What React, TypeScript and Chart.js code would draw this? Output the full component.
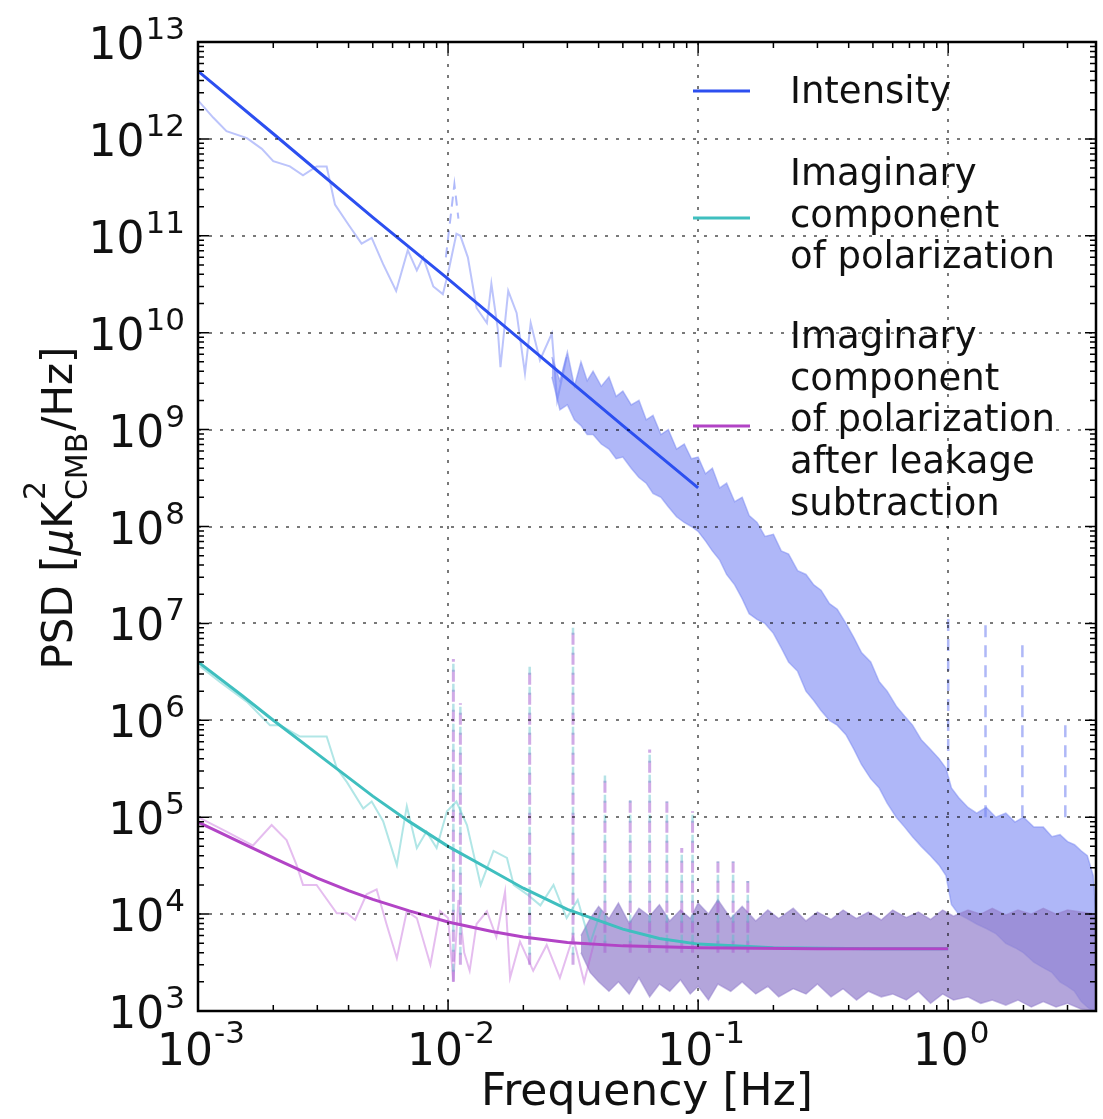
import React, { useEffect, useRef } from 'react';
import { Chart, registerables } from 'chart.js';

Chart.register(...registerables);

const FONT = '"DejaVu Sans", "Liberation Sans", sans-serif';

// ---------- Axis ticks ----------
const xTickExponents = ['-3', '-2', '-1', '0'];
const yTickExponents = ['3', '4', '5', '6', '7', '8', '9', '10', '11', '12', '13'];
const xMin = 0.001;
const xMax = 3.9;
const yMin = 1e3;
const yMax = 1e13;

// ---------- Fits (solid, thick) ----------
const intensityFitFreq = [0.001, 0.002, 0.005, 0.01, 0.02, 0.05, 0.1];
const intensityFitPsd = [5.0e12, 1.13e12, 1.55e11, 3.6e10, 8.0e9, 1.1e9, 2.5e8];

const cyanFitFreq = [0.001, 0.0015, 0.002, 0.003, 0.005, 0.007, 0.01, 0.015, 0.02, 0.03, 0.05, 0.07, 0.1, 0.2, 0.5, 1.0];
const cyanFitPsd = [4.0e6, 1.8e6, 1.0e6, 4.5e5, 1.65e5, 9.0e4, 5.0e4, 2.8e4, 1.85e4, 1.12e4, 7.0e3, 5.6e3, 4.9e3, 4.5e3, 4.4e3, 4.4e3];

const magentaFitFreq = [0.001, 0.0015, 0.002, 0.003, 0.004, 0.005, 0.007, 0.01, 0.015, 0.02, 0.03, 0.05, 0.1, 0.3, 1.0];
const magentaFitPsd = [8.9e4, 5.4e4, 3.8e4, 2.35e4, 1.75e4, 1.42e4, 1.08e4, 8.3e3, 6.6e3, 5.8e3, 5.1e3, 4.7e3, 4.5e3, 4.4e3, 4.4e3];

// ---------- Measured PSD, low-frequency part (thin lines) ----------
const intensityNoiseFreq = [0.001, 0.00115, 0.0013, 0.00157, 0.0018, 0.002, 0.00233, 0.00263, 0.00298, 0.00327, 0.00353, 0.004, 0.00451, 0.00495, 0.0055, 0.0062, 0.0069, 0.0075, 0.00795, 0.00873, 0.00953, 0.01, 0.0108, 0.0112, 0.012, 0.013, 0.0143, 0.0149, 0.0158, 0.0162, 0.0174, 0.0188, 0.0203, 0.0214, 0.0233, 0.026, 0.0273, 0.0298];
const intensityNoisePsd = [2.5e12, 1.66e12, 1.2e12, 1.02e12, 7.9e11, 5.9e11, 5.2e11, 4.2e11, 5.2e11, 5.2e11, 2.1e11, 1.3e11, 8.3e10, 9.5e10, 5.1e10, 2.7e10, 7.1e10, 4.4e10, 6.0e10, 3.0e10, 2.5e10, 4.1e10, 1.05e11, 1.0e11, 6.0e10, 1.8e10, 1.26e10, 3.2e10, 1.1e10, 4.4e9, 2.7e10, 1.6e10, 3.8e9, 1.26e10, 5.2e9, 9.8e9, 2.0e9, 5.6e9];

const cyanNoiseFreq = [0.00102, 0.00122, 0.00157, 0.00194, 0.00213, 0.00256, 0.00327, 0.00359, 0.00394, 0.00458, 0.00495, 0.0055, 0.00624, 0.00684, 0.0075, 0.0082, 0.009, 0.0099, 0.0108, 0.0119, 0.0135, 0.0152, 0.0172, 0.0183, 0.0207, 0.0234, 0.0264, 0.0298, 0.033, 0.037, 0.041];
const cyanNoisePsd = [3.6e6, 2.5e6, 1.55e6, 8.9e5, 8.9e5, 6.8e5, 6.8e5, 3.2e5, 2.3e5, 1.23e5, 1.45e5, 9.1e4, 3.2e4, 1.3e5, 4.8e4, 7.1e4, 4.8e4, 1.15e5, 1.45e5, 8.3e4, 2.0e4, 4.5e4, 3.8e4, 2.0e4, 1.6e4, 1.23e4, 2.0e4, 9.1e3, 1.4e4, 5.0e3, 1.1e4];

const magentaNoiseFreq = [0.00102, 0.0013, 0.00166, 0.00197, 0.00226, 0.00248, 0.00263, 0.00298, 0.00359, 0.00394, 0.00425, 0.00472, 0.00518, 0.00568, 0.00624, 0.00684, 0.0075, 0.0085, 0.0093, 0.01, 0.0105, 0.011, 0.0116, 0.0122, 0.013, 0.0143, 0.0156, 0.0169, 0.0177, 0.0194, 0.0219, 0.0248, 0.028, 0.0316, 0.035, 0.039];
const magentaNoisePsd = [9.8e4, 7.1e4, 5.1e4, 8.3e4, 5.8e4, 3.2e4, 2.0e4, 2.0e4, 1.02e4, 1.02e4, 8.7e3, 1.6e4, 1.8e4, 7.8e3, 3.5e3, 1.07e4, 9.1e3, 3.0e3, 1.07e4, 9.1e3, 2.0e3, 1.4e4, 4.0e3, 2.6e3, 7.9e3, 1.07e4, 5.8e3, 1.7e4, 2.2e3, 5.2e3, 2.6e3, 4.8e3, 2.2e3, 5.8e3, 2.0e3, 6.0e3];

// ---------- Measured PSD, dense high-frequency part (envelopes) ----------
const intensityBandFreq = [0.026, 0.028, 0.03, 0.032, 0.034, 0.036, 0.038, 0.041, 0.044, 0.047, 0.05, 0.054, 0.058, 0.062, 0.066, 0.071, 0.076, 0.082, 0.088, 0.094, 0.1, 0.107, 0.114, 0.122, 0.13, 0.14, 0.15, 0.16, 0.172, 0.185, 0.2, 0.215, 0.23, 0.25, 0.27, 0.29, 0.31, 0.335, 0.36, 0.39, 0.42, 0.45, 0.49, 0.53, 0.57, 0.62, 0.67, 0.72, 0.78, 0.85, 0.92, 0.98, 1.03, 1.1, 1.2, 1.3, 1.42, 1.55, 1.7, 1.85, 2.0, 2.2, 2.4, 2.6, 2.8, 3.0, 3.2, 3.4, 3.6, 3.8, 3.9];
const intensityBandHigh = [5.6e9, 3.2e9, 6.3e9, 2.8e9, 5.0e9, 3.2e9, 4.0e9, 2.8e9, 3.5e9, 2.2e9, 2.5e9, 1.8e9, 2.0e9, 1.26e9, 1.4e9, 8.9e8, 1.0e9, 6.3e8, 7.1e8, 5.0e8, 5.2e8, 3.5e8, 4.0e8, 2.5e8, 2.8e8, 1.8e8, 2.0e8, 1.3e8, 1.1e8, 7.9e7, 8.3e7, 5.6e7, 5.2e7, 3.5e7, 3.2e7, 2.5e7, 2.2e7, 1.6e7, 1.4e7, 1.0e7, 7.1e6, 5.0e6, 4.0e6, 2.5e6, 2.0e6, 1.4e6, 1.1e6, 8.9e5, 6.3e5, 5.0e5, 4.0e5, 3.2e5, 2.0e5, 1.6e5, 1.26e5, 1.1e5, 1.26e5, 1.0e5, 1.1e5, 8.9e4, 1.0e5, 7.9e4, 7.9e4, 6.3e4, 6.6e4, 5.6e4, 5.2e4, 4.5e4, 4.0e4, 2.5e4, 1.0e4];
const intensityBandLow = [3.5e9, 1.6e9, 1.8e9, 1.26e9, 1.1e9, 8.9e8, 8.9e8, 7.1e8, 6.3e8, 5.0e8, 5.2e8, 4.0e8, 3.2e8, 2.8e8, 2.2e8, 2.0e8, 1.6e8, 1.26e8, 1.1e8, 1.0e8, 8.9e7, 7.1e7, 5.6e7, 4.5e7, 3.2e7, 2.5e7, 1.8e7, 1.26e7, 1.1e7, 1.0e7, 7.9e6, 5.6e6, 4.0e6, 3.2e6, 2.0e6, 1.6e6, 1.26e6, 1.0e6, 8.9e5, 7.1e5, 5.0e5, 3.5e5, 2.5e5, 2.0e5, 1.4e5, 1.0e5, 7.9e4, 6.3e4, 5.0e4, 4.0e4, 3.2e4, 2.5e4, 1.26e4, 1.0e4, 8.9e3, 7.9e3, 7.1e3, 6.3e3, 5.0e3, 4.5e3, 4.0e3, 3.2e3, 2.8e3, 2.5e3, 2.0e3, 1.8e3, 1.6e3, 1.26e3, 1.1e3, 1.0e3, 1.0e3];

const polBandFreq = [0.034, 0.037, 0.04, 0.044, 0.048, 0.053, 0.058, 0.064, 0.07, 0.077, 0.085, 0.093, 0.1, 0.11, 0.12, 0.135, 0.15, 0.17, 0.19, 0.21, 0.24, 0.27, 0.3, 0.34, 0.38, 0.43, 0.48, 0.54, 0.6, 0.68, 0.76, 0.85, 0.95, 1.05, 1.2, 1.35, 1.5, 1.7, 1.9, 2.15, 2.4, 2.7, 3.0, 3.4, 3.9];
const polBandHigh = [6.0e3, 9.0e3, 1.2e4, 9.0e3, 1.3e4, 8.0e3, 1.15e4, 9.5e3, 1.25e4, 8.5e3, 1.1e4, 9.0e3, 1.3e4, 1.0e4, 1.4e4, 9.0e3, 1.2e4, 8.5e3, 1.1e4, 9.0e3, 1.15e4, 8.5e3, 1.05e4, 8.8e3, 1.1e4, 9.0e3, 1.05e4, 8.7e3, 1.1e4, 9.2e3, 1.05e4, 8.8e3, 1.1e4, 9.5e3, 1.1e4, 1.0e4, 1.15e4, 9.8e3, 1.1e4, 1.0e4, 1.15e4, 1.0e4, 1.1e4, 1.05e4, 1.0e4];
const polBandLow = [4.0e3, 2.5e3, 2.0e3, 1.6e3, 2.0e3, 1.5e3, 2.2e3, 1.4e3, 1.9e3, 1.6e3, 2.1e3, 1.5e3, 1.8e3, 1.3e3, 1.9e3, 1.6e3, 2.0e3, 1.5e3, 1.8e3, 1.4e3, 1.7e3, 1.5e3, 1.9e3, 1.4e3, 1.7e3, 1.3e3, 1.6e3, 1.4e3, 1.5e3, 1.3e3, 1.6e3, 1.2e3, 1.5e3, 1.3e3, 1.4e3, 1.2e3, 1.3e3, 1.15e3, 1.3e3, 1.1e3, 1.25e3, 1.1e3, 1.2e3, 1.05e3, 1.0e3];

// ---------- Narrow dashed spikes ----------
const polSpikeFreq = [0.0105, 0.0112, 0.0212, 0.0316, 0.0424, 0.0535, 0.064, 0.075, 0.086, 0.095, 0.12, 0.138, 0.158];
const polSpikeTop = [4.3e6, 1.5e6, 3.6e6, 9.0e6, 2.7e5, 1.5e5, 5.0e5, 1.45e5, 4.8e4, 1.15e5, 3.5e4, 3.5e4, 2.2e4];
const polSpikeBase = [2.0e3, 3.0e3, 3.0e3, 3.0e3, 4.0e3, 4.0e3, 4.0e3, 4.0e3, 4.0e3, 4.0e3, 4.0e3, 4.0e3, 4.0e3];

const intensitySpikeFreq = [1.0, 1.41, 1.98, 2.94];
const intensitySpikeTop = [1.3e7, 1.0e7, 6.3e6, 9.5e5];
const intensitySpikeBase = [3.0e5, 1.0e5, 1.0e5, 1.0e5];

const intensityDashFreq = [0.0098, 0.0106, 0.011];
const intensityDashPsd = [6.0e10, 3.4e11, 1.5e11];

// ---------- Legend ----------
const legendLabels = [
  ['Intensity'],
  ['Imaginary', 'component', 'of polarization'],
  ['Imaginary', 'component', 'of polarization', 'after leakage', 'subtraction'],
];

const intensityColor = '#2c4ff0';
const cyanColor = '#3fbfbf';
const magentaColor = '#b244c6';
const legendColors = [intensityColor, cyanColor, magentaColor];

function pts(f: number[], p: number[]) {
  return f.map((x, i) => ({ x, y: p[i] }));
}

function spikes(f: number[], base: number[], top: number[]) {
  const out: { x: number; y: number | null }[] = [];
  f.forEach((x, i) => {
    out.push({ x, y: base[i] }, { x, y: top[i] }, { x, y: null });
  });
  return out;
}

const overlay = {
  id: 'overlay',
  afterDatasetsDraw(chart: any) {
    const { ctx, chartArea: a, scales } = chart;
    const xs = scales.x;
    const ys = scales.y;
    ctx.save();

    // grid (decades only)
    ctx.strokeStyle = 'rgba(0,0,0,0.7)';
    ctx.lineWidth = 1.5;
    ctx.setLineDash([3, 8]);
    for (let e = -2; e <= 0; e++) {
      const px = Math.round(xs.getPixelForValue(Math.pow(10, e)));
      ctx.beginPath();
      ctx.moveTo(px, a.top);
      ctx.lineTo(px, a.bottom);
      ctx.stroke();
    }
    for (let e = 4; e <= 12; e++) {
      const py = Math.round(ys.getPixelForValue(Math.pow(10, e)));
      ctx.beginPath();
      ctx.moveTo(a.left, py);
      ctx.lineTo(a.right, py);
      ctx.stroke();
    }
    ctx.setLineDash([]);

    // ticks, inward on all four sides
    ctx.strokeStyle = '#000';
    ctx.lineWidth = 1.5;
    for (let e = -3; e <= 0; e++) {
      for (let m = 1; m <= 9; m++) {
        const v = m * Math.pow(10, e);
        if (v < xMin || v > xMax) continue;
        const px = xs.getPixelForValue(v);
        const len = m === 1 ? 11 : 6;
        ctx.beginPath();
        ctx.moveTo(px, a.bottom);
        ctx.lineTo(px, a.bottom - len);
        ctx.moveTo(px, a.top);
        ctx.lineTo(px, a.top + len);
        ctx.stroke();
      }
    }
    for (let e = 3; e <= 13; e++) {
      for (let m = 1; m <= 9; m++) {
        const v = m * Math.pow(10, e);
        if (v < yMin || v > yMax) continue;
        const py = ys.getPixelForValue(v);
        const len = m === 1 ? 11 : 6;
        ctx.beginPath();
        ctx.moveTo(a.left, py);
        ctx.lineTo(a.left + len, py);
        ctx.moveTo(a.right, py);
        ctx.lineTo(a.right - len, py);
        ctx.stroke();
      }
    }

    // frame
    ctx.lineWidth = 2.5;
    ctx.strokeRect(a.left, a.top, a.right - a.left, a.bottom - a.top);

    // tick labels
    const baseFont = `44px ${FONT}`;
    const supFont = `31px ${FONT}`;
    ctx.fillStyle = '#111';
    ctx.textAlign = 'left';
    ctx.textBaseline = 'alphabetic';
    yTickExponents.forEach((s) => {
      const py = ys.getPixelForValue(Math.pow(10, Number(s)));
      ctx.font = baseFont;
      const bw = ctx.measureText('10').width;
      ctx.font = supFont;
      const sw = ctx.measureText(s).width;
      const right = a.left - 13;
      const bx = right - sw - bw - 1;
      ctx.font = baseFont;
      ctx.fillText('10', bx, py + 17);
      ctx.font = supFont;
      ctx.fillText(s, bx + bw + 1, py - 3);
    });
    xTickExponents.forEach((s) => {
      const px = xs.getPixelForValue(Math.pow(10, Number(s)));
      ctx.font = baseFont;
      const bw = ctx.measureText('10').width;
      ctx.font = supFont;
      const sw = ctx.measureText(s).width;
      const bx = px - (bw + sw + 1) / 2 + 3;
      ctx.font = baseFont;
      ctx.fillText('10', bx, 1065);
      ctx.font = supFont;
      ctx.fillText(s, bx + bw + 1, 1043);
    });

    // x title
    ctx.font = `44px ${FONT}`;
    ctx.textAlign = 'center';
    ctx.fillText('Frequency [Hz]', (a.left + a.right) / 2, 1105);

    // y title (rotated)
    ctx.save();
    ctx.translate(72, 508);
    ctx.rotate(-Math.PI / 2);
    ctx.textAlign = 'left';
    const mainF = `42px ${FONT}`;
    const itF = `italic 42px ${FONT}`;
    const smallF = `30px ${FONT}`;
    ctx.font = mainF;
    const w1 = ctx.measureText('PSD [').width;
    ctx.font = itF;
    const w2 = ctx.measureText('\u03bc').width;
    ctx.font = mainF;
    const w3 = ctx.measureText('K').width;
    ctx.font = smallF;
    const w4 = Math.max(ctx.measureText('2').width, ctx.measureText('CMB').width);
    ctx.font = mainF;
    const w5 = ctx.measureText('/Hz]').width;
    const total = w1 + w2 + w3 + w4 + w5 + 3;
    let x = -total / 2;
    ctx.font = mainF;
    ctx.fillText('PSD [', x, 0);
    x += w1;
    ctx.font = itF;
    ctx.fillText('\u03bc', x, 0);
    x += w2;
    ctx.font = mainF;
    ctx.fillText('K', x, 0);
    x += w3 + 1;
    ctx.font = smallF;
    ctx.fillText('2', x, -27);
    ctx.fillText('CMB', x, 15);
    x += w4 + 2;
    ctx.font = mainF;
    ctx.fillText('/Hz]', x, 0);
    ctx.restore();

    // legend
    const lineYs = [91, 218, 426];
    const firstBaselines = [103, 185, 348];
    const spacing = 41.7;
    ctx.font = `37px ${FONT}`;
    ctx.textAlign = 'left';
    legendLabels.forEach((lines, i) => {
      ctx.strokeStyle = legendColors[i];
      ctx.lineWidth = 3;
      ctx.beginPath();
      ctx.moveTo(693, lineYs[i]);
      ctx.lineTo(750, lineYs[i]);
      ctx.stroke();
      ctx.fillStyle = '#111';
      lines.forEach((t, j) => {
        ctx.fillText(t, 790, firstBaselines[i] + j * spacing);
      });
    });

    ctx.restore();
  },
};

export default function App() {
  const ref = useRef<HTMLCanvasElement>(null);
  useEffect(() => {
    const canvas = ref.current;
    if (!canvas) return;
    const datasets: any[] = [
      // order: lower = drawn on top
      {
        label: 'intensity band high',
        data: pts(intensityBandFreq, intensityBandHigh),
        borderColor: 'rgba(120,135,242,0.5)',
        borderWidth: 1.5,
        backgroundColor: 'rgba(112,126,242,0.56)',
        fill: '+1',
        order: 100,
      },
      {
        label: 'intensity band low',
        data: pts(intensityBandFreq, intensityBandLow),
        borderColor: 'rgba(120,135,242,0.5)',
        borderWidth: 1.5,
        fill: false,
        order: 99,
      },
      {
        label: 'intensity noise',
        data: pts(intensityNoiseFreq, intensityNoisePsd),
        borderColor: 'rgba(95,115,245,0.42)',
        borderWidth: 2,
        fill: false,
        order: 90,
      },
      {
        label: 'intensity dash',
        data: pts(intensityDashFreq, intensityDashPsd),
        borderColor: 'rgba(95,115,245,0.5)',
        borderWidth: 2,
        borderDash: [10, 7],
        fill: false,
        order: 89,
      },
      {
        label: 'intensity spikes',
        data: spikes(intensitySpikeFreq, intensitySpikeBase, intensitySpikeTop),
        borderColor: 'rgba(110,125,240,0.55)',
        borderWidth: 2.5,
        borderDash: [12, 8],
        fill: false,
        spanGaps: false,
        order: 88,
      },
      {
        label: 'pol band high',
        data: pts(polBandFreq, polBandHigh),
        borderColor: 'rgba(150,130,205,0.55)',
        borderWidth: 1.5,
        backgroundColor: 'rgba(150,130,205,0.72)',
        fill: '+1',
        order: 80,
      },
      {
        label: 'pol band low',
        data: pts(polBandFreq, polBandLow),
        borderColor: 'rgba(150,130,205,0.55)',
        borderWidth: 1.5,
        fill: false,
        order: 79,
      },
      {
        label: 'cyan noise',
        data: pts(cyanNoiseFreq, cyanNoisePsd),
        borderColor: 'rgba(70,195,195,0.42)',
        borderWidth: 2,
        fill: false,
        order: 70,
      },
      {
        label: 'magenta noise',
        data: pts(magentaNoiseFreq, magentaNoisePsd),
        borderColor: 'rgba(190,90,215,0.4)',
        borderWidth: 2,
        fill: false,
        order: 69,
      },
      {
        label: 'pol spikes magenta',
        data: spikes(polSpikeFreq, polSpikeBase, polSpikeTop),
        borderColor: 'rgba(170,100,210,0.55)',
        borderWidth: 3,
        borderDash: [12, 8],
        fill: false,
        spanGaps: false,
        order: 60,
      },
      {
        label: 'pol spikes cyan',
        data: spikes(polSpikeFreq, polSpikeBase, polSpikeTop),
        borderColor: 'rgba(90,190,200,0.45)',
        borderWidth: 2.5,
        borderDash: [8, 12],
        borderDashOffset: 10,
        fill: false,
        spanGaps: false,
        order: 59,
      },
      {
        label: 'cyan fit',
        data: pts(cyanFitFreq, cyanFitPsd),
        borderColor: cyanColor,
        borderWidth: 3,
        fill: false,
        order: 3,
      },
      {
        label: 'magenta fit',
        data: pts(magentaFitFreq, magentaFitPsd),
        borderColor: magentaColor,
        borderWidth: 3,
        fill: false,
        order: 2,
      },
      {
        label: 'intensity fit',
        data: pts(intensityFitFreq, intensityFitPsd),
        borderColor: intensityColor,
        borderWidth: 3,
        fill: false,
        order: 1,
      },
    ];
    const chart = new Chart(canvas, {
      type: 'line',
      data: { datasets },
      options: {
        animation: false,
        responsive: false,
        devicePixelRatio: 1,
        events: [],
        layout: { padding: { left: 198, top: 42, right: 7, bottom: 108 } },
        elements: { point: { radius: 0 }, line: { tension: 0 } },
        scales: {
          x: { type: 'logarithmic', min: xMin, max: xMax, display: false },
          y: { type: 'logarithmic', min: yMin, max: yMax, display: false },
        },
        plugins: { legend: { display: false }, tooltip: { enabled: false } },
      },
      plugins: [overlay],
    } as any);
    return () => chart.destroy();
  }, []);
  return (
    <canvas
      ref={ref}
      width={1103}
      height={1119}
      style={{ position: 'absolute', left: 0, top: 0, width: 1103, height: 1119 }}
    />
  );
}
